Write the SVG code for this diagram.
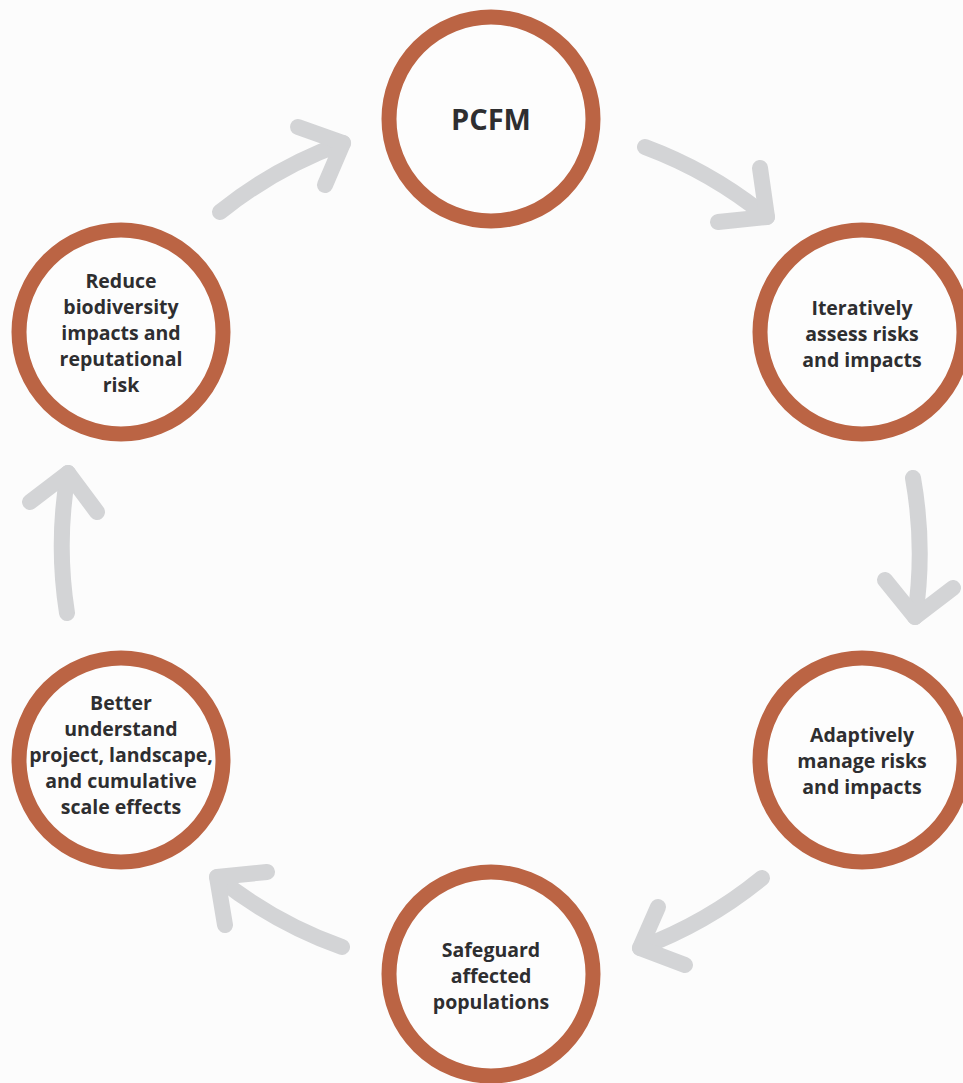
<svg xmlns="http://www.w3.org/2000/svg" width="963" height="1083" viewBox="0 0 963 1083">
<style>
.node circle{fill:#fdfdfd;stroke:#bb6444;stroke-width:15}
.node text{font-family:"Open Sans","Noto Sans",sans-serif;font-weight:700;font-size:19.5px;fill:#2e2e30;text-anchor:middle}
.node text.big{font-size:29px}
.conn path,.conn polyline{fill:none;stroke:#d3d4d6;stroke-width:16;stroke-linecap:round;stroke-linejoin:round}
</style>
<rect width="963" height="1083" fill="#fcfcfc"/>
<g class="conn" id="connectors">
<path d="M220,212 A430,430 0 0 1 343,143"/>
<polyline points="298,127 343,143 325,185"/>
<path d="M645,147 A430,430 0 0 1 767,217"/>
<polyline points="760,168 767,217 718,222"/>
<path d="M913,478 A430,430 0 0 1 915,617"/>
<polyline points="885,580 915,617 953,588"/>
<path d="M762,878 A430,430 0 0 1 640,948"/>
<polyline points="658,907 640,948 685,965"/>
<path d="M342,947 A430,430 0 0 1 217,877"/>
<polyline points="267,872 217,877 225,925"/>
<path d="M67,613 A430,430 0 0 1 68,473"/>
<polyline points="30,502 68,473 97,512"/>
</g>
<g class="node" id="pcfm">
<circle cx="491" cy="119" r="102"/>
<text class="big" x="491" y="130">PCFM</text>
</g>
<g class="node" id="assess">
<circle cx="862" cy="332" r="102"/>
<text x="862" y="315">Iteratively</text>
<text x="862" y="341">assess risks</text>
<text x="862" y="367">and impacts</text>
</g>
<g class="node" id="manage">
<circle cx="862" cy="760" r="102"/>
<text x="862" y="742">Adaptively</text>
<text x="862" y="768">manage risks</text>
<text x="862" y="794">and impacts</text>
</g>
<g class="node" id="safeguard">
<circle cx="491" cy="974" r="102"/>
<text x="491" y="957">Safeguard</text>
<text x="491" y="983">affected</text>
<text x="491" y="1009">populations</text>
</g>
<g class="node" id="understand">
<circle cx="121" cy="760" r="102"/>
<text x="121" y="710">Better</text>
<text x="121" y="736">understand</text>
<text x="121" y="762">project, landscape,</text>
<text x="121" y="788">and cumulative</text>
<text x="121" y="814">scale effects</text>
</g>
<g class="node" id="reduce">
<circle cx="121" cy="332" r="102"/>
<text x="121" y="288">Reduce</text>
<text x="121" y="314">biodiversity</text>
<text x="121" y="340">impacts and</text>
<text x="121" y="366">reputational</text>
<text x="121" y="392">risk</text>
</g>
</svg>
